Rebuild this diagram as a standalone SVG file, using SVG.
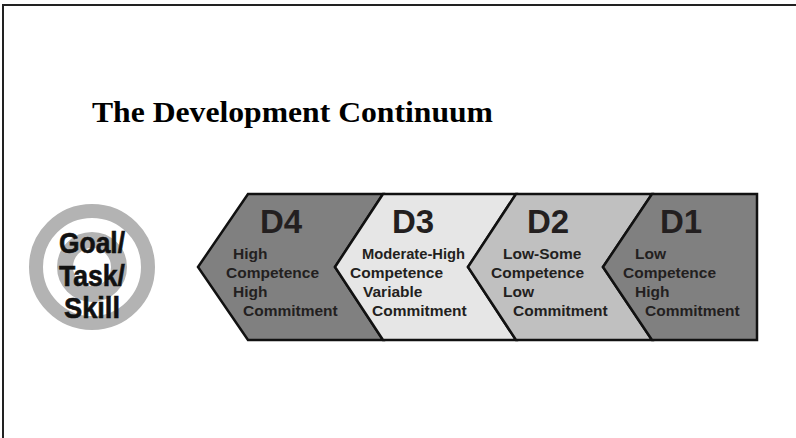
<svg xmlns="http://www.w3.org/2000/svg" width="796" height="438" viewBox="0 0 796 438">
<style>
.seg{stroke:#111;stroke-width:2.5;stroke-linejoin:miter}
.lbl{font-family:"Liberation Sans",Arial,Helvetica,sans-serif;font-weight:bold;font-size:33px;fill:#231f20}
.txt{font-family:"Liberation Sans",Arial,Helvetica,sans-serif;font-weight:bold;font-size:15.5px;fill:#231f20}
.goal{font-family:"Liberation Sans",Arial,Helvetica,sans-serif;font-weight:bold;font-size:30px;fill:#111;stroke:#111;stroke-width:0.6;text-anchor:middle}
.ring{fill:none;stroke:#b3b3b3}
</style>
<rect x="0" y="0" width="796" height="438" fill="#fff"/>
<path d="M3,438 V5 H796" fill="none" stroke="#222" stroke-width="2"/>
<g id="title">
<text x="92" y="122" font-family="'Liberation Serif','Times New Roman',serif" font-weight="bold" font-size="30" fill="#000" textLength="401" lengthAdjust="spacingAndGlyphs">The Development Continuum</text>
</g>
<g id="goal">
<circle class="ring" cx="92" cy="267" r="56" stroke-width="14"/>
<circle class="ring" cx="92" cy="267" r="27" stroke-width="16"/>
<text class="goal" x="92" y="253" textLength="66" lengthAdjust="spacingAndGlyphs">Goal/</text>
<text class="goal" x="92" y="286" textLength="66" lengthAdjust="spacingAndGlyphs">Task/</text>
<text class="goal" x="92" y="318" textLength="56" lengthAdjust="spacingAndGlyphs">Skill</text>
</g>
<g id="d4">
<polygon class="seg" fill="#808080" points="198,267 248,194 383,194 335,267 383,340 248,340"/>
<text class="lbl" x="260" y="233">D4</text>
<text class="txt" x="233" y="259">High</text>
<text class="txt" x="226" y="278">Competence</text>
<text class="txt" x="233" y="297">High</text>
<text class="txt" x="243" y="316">Commitment</text>
</g>
<g id="d3">
<polygon class="seg" fill="#e6e6e6" points="335,267 383,194 516,194 468,267 516,340 383,340"/>
<text class="lbl" x="392" y="233">D3</text>
<text class="txt" x="362" y="259" textLength="103" lengthAdjust="spacingAndGlyphs">Moderate-High</text>
<text class="txt" x="350" y="278">Competence</text>
<text class="txt" x="363" y="297">Variable</text>
<text class="txt" x="372" y="316">Commitment</text>
</g>
<g id="d2">
<polygon class="seg" fill="#c0c0c0" points="468,267 516,194 652,194 603,267 652,340 516,340"/>
<text class="lbl" x="527" y="233">D2</text>
<text class="txt" x="503" y="259">Low-Some</text>
<text class="txt" x="491" y="278">Competence</text>
<text class="txt" x="503" y="297">Low</text>
<text class="txt" x="513" y="316">Commitment</text>
</g>
<g id="d1">
<polygon class="seg" fill="#808080" points="603,267 652,194 757,194 757,340 652,340"/>
<text class="lbl" x="660" y="233">D1</text>
<text class="txt" x="635" y="259">Low</text>
<text class="txt" x="623" y="278">Competence</text>
<text class="txt" x="635" y="297">High</text>
<text class="txt" x="645" y="316">Commitment</text>
</g>
</svg>
